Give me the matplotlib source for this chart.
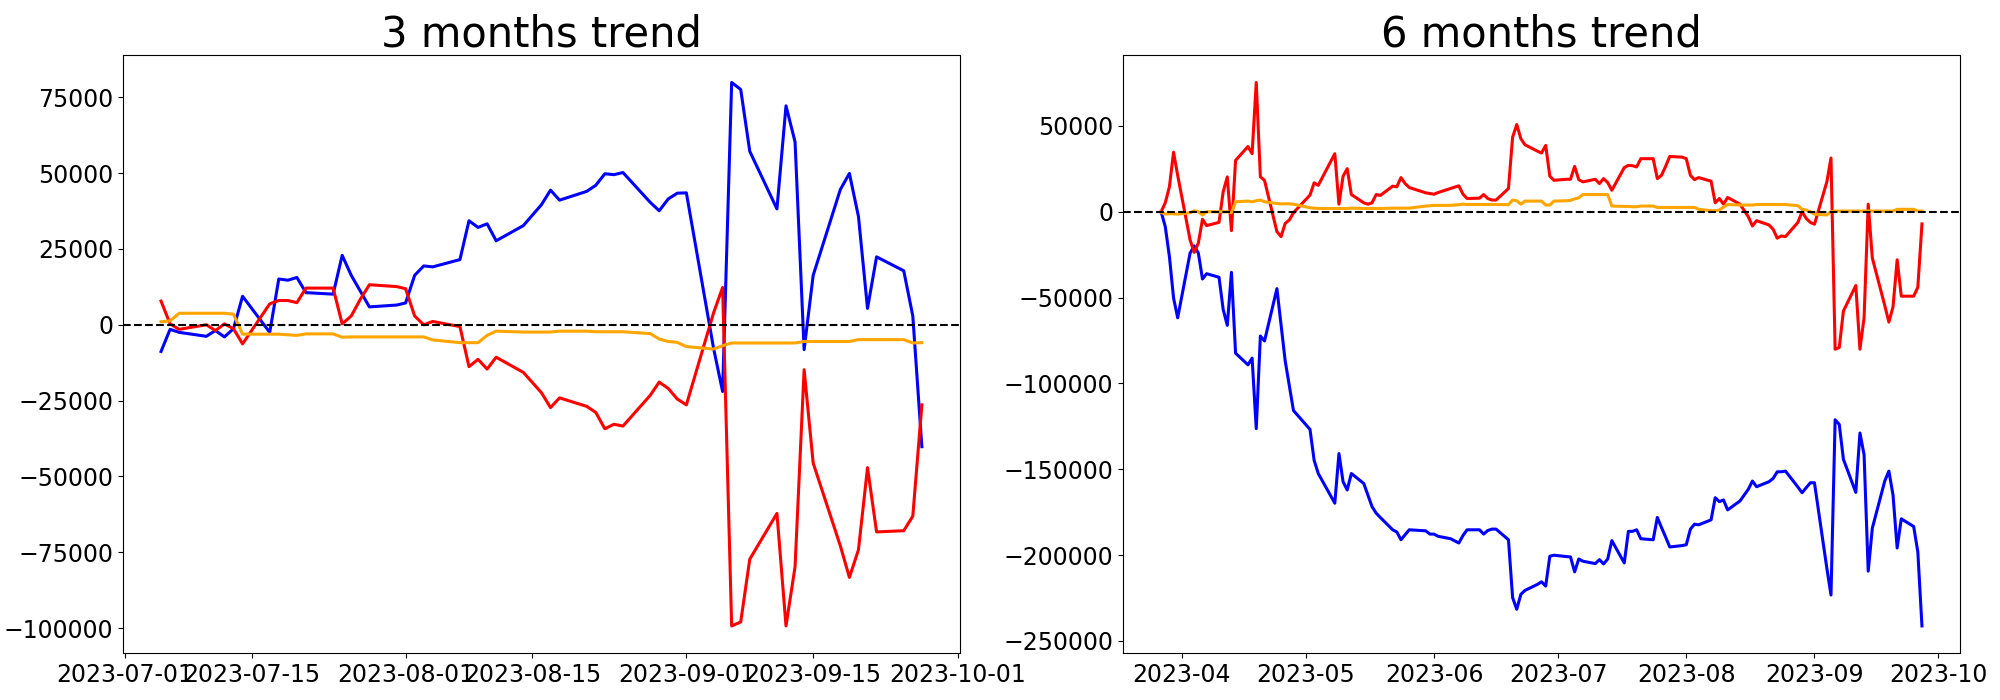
import matplotlib.pyplot as plt
import pandas as pd

# 3 months window (trading days)
dates_3m = [
    "2023-07-05", "2023-07-06", "2023-07-07", "2023-07-10", "2023-07-11", "2023-07-12", "2023-07-13",
    "2023-07-14", "2023-07-17", "2023-07-18", "2023-07-19", "2023-07-20", "2023-07-21", "2023-07-24",
    "2023-07-25", "2023-07-26", "2023-07-27", "2023-07-28", "2023-07-31",
    "2023-08-01", "2023-08-02", "2023-08-03", "2023-08-04", "2023-08-07", "2023-08-08", "2023-08-09",
    "2023-08-10", "2023-08-11", "2023-08-14", "2023-08-16", "2023-08-17", "2023-08-18", "2023-08-21",
    "2023-08-22", "2023-08-23", "2023-08-24", "2023-08-25", "2023-08-28", "2023-08-29", "2023-08-30",
    "2023-08-31",
    "2023-09-01", "2023-09-04", "2023-09-05", "2023-09-06", "2023-09-07", "2023-09-08", "2023-09-11",
    "2023-09-12", "2023-09-13", "2023-09-14", "2023-09-15", "2023-09-18", "2023-09-19", "2023-09-20",
    "2023-09-21", "2023-09-22", "2023-09-25", "2023-09-26", "2023-09-27",
]
blue_3m = [
    -8800, -1500, -2500, -3800, -1900, -4000, -1300, 9400, -2500, 15100,
    14700, 15600, 10600, 10100, 22900, 16300, 11100, 5900, 6500,
    7200, 16300, 19400, 19100, 21500, 34300, 32100, 33300, 27700, 32700,
    39600, 44400, 41100, 44000, 46000, 49800, 49500, 50200, 40400, 37600, 41500, 43400,
    43500, -7700, -22000, 79900, 77600, 57200, 38200, 72200, 60300, -8200,
    16300, 44600, 49900, 35700, 5400, 22400, 17800, 2900, -40200,
]
red_3m = [
    7800, 300, -1500, 0, -1900, 300, -1300, -6300, 6900, 8000,
    8000, 7300, 12100, 12100, 300, 2900, 8400, 13200, 12600,
    11900, 2900, 0, 1100, -600, -13800, -11400, -14600, -10700, -15700,
    -22400, -27300, -24100, -26900, -28900, -34300, -32800, -33400, -23300, -18900, -21000, -24500,
    -26400, 3900, 12300, -99300, -98000, -77300, -62200, -99300, -79800, -14800,
    -45600, -72900, -83300, -74200, -47100, -68300, -67900, -63100, -26400,
]
orange_3m = [
    1000, 1300, 3800, 3800, 3800, 3800, 3500, -3100, -3100, -3100,
    -3300, -3500, -3000, -3000, -4100, -4000, -4000, -4000, -4000,
    -4000, -4000, -4000, -5000, -5900, -5900, -5900, -3500, -2100, -2400,
    -2400, -2400, -2100, -2100, -2300, -2300, -2300, -2300, -2900, -4700, -5500, -5800,
    -7200, -8000, -6900, -6000, -6000, -6000, -6000, -6000, -6000, -5500,
    -5500, -5500, -5500, -4900, -4900, -4900, -4900, -6000, -5900,
]

# 6 months window (trading days)
dates_6m = [
    "2023-03-27", "2023-03-28", "2023-03-29", "2023-03-30", "2023-03-31",
    "2023-04-03", "2023-04-04", "2023-04-05", "2023-04-06", "2023-04-07", "2023-04-10", "2023-04-11",
    "2023-04-12", "2023-04-13", "2023-04-14", "2023-04-17", "2023-04-18", "2023-04-19", "2023-04-20",
    "2023-04-21", "2023-04-24", "2023-04-25", "2023-04-26", "2023-04-27", "2023-04-28",
    "2023-05-02", "2023-05-03", "2023-05-04", "2023-05-08", "2023-05-09", "2023-05-10", "2023-05-11",
    "2023-05-12", "2023-05-15", "2023-05-16", "2023-05-17", "2023-05-18", "2023-05-19", "2023-05-22",
    "2023-05-23", "2023-05-24", "2023-05-25", "2023-05-26", "2023-05-30", "2023-05-31",
    "2023-06-01", "2023-06-02", "2023-06-05", "2023-06-07", "2023-06-08", "2023-06-09", "2023-06-12",
    "2023-06-13", "2023-06-14", "2023-06-15", "2023-06-16", "2023-06-19", "2023-06-20", "2023-06-21",
    "2023-06-22", "2023-06-23", "2023-06-26", "2023-06-27", "2023-06-28", "2023-06-29", "2023-06-30",
    "2023-07-03", "2023-07-04", "2023-07-05", "2023-07-06", "2023-07-07", "2023-07-10", "2023-07-11",
    "2023-07-12", "2023-07-13", "2023-07-14", "2023-07-17", "2023-07-18", "2023-07-19", "2023-07-20",
    "2023-07-21", "2023-07-24", "2023-07-25", "2023-07-26", "2023-07-27", "2023-07-28", "2023-07-31",
] + dates_3m[19:]
blue_6m = [
    0, -8700, -26100, -50200, -61800,
    -24100, -19900, -24100, -39200, -36100, -38200, -56900, -66200, -35300, -82400,
    -89200, -85300, -126400, -72400, -75300, -44800, -65600, -86900, -101300, -115800,
    -126800, -144800, -152500, -169800, -140900, -157300, -162100, -152500, -158300, -165000,
    -171800, -175600, -178100, -185300, -186600, -191100, -188200, -185300, -185900, -187800,
    -187800, -189100, -190500, -193000, -188600, -185300, -185300, -187800, -185700, -184900,
    -184900, -191100, -224800, -231600, -222900, -220600, -217100, -215600, -218100, -200700, -200100,
    -200900, -201100, -209800, -202300, -203600, -205000, -202700, -205200, -202300, -191600,
    -204600, -186200, -186200, -185300, -190500, -191100, -178100, -183900, -189500, -195300, -194500,
    -194000, -184900, -182000, -182400, -179500, -166600, -168900, -167900, -173700, -168500,
    -161700, -156900, -160200, -157300, -155400, -151500, -151500, -151100, -160400, -163700,
    -160800, -157900,
    -157900, -207700, -223300, -121200, -123900, -144200, -163500, -128900, -141500, -209400,
    -184300, -156900, -151100, -165000, -195900, -178900, -183400, -198200, -241300,
]
red_6m = [
    0, 5200, 14500, 34700, 21200,
    -16400, -23700, -18300, -4400, -8100, -6200, 11600, 20300, -11000, 29900,
    38000, 33800, 75300, 20300, 18300, -11600, -14500, -6800, -4800, -600,
    9700, 16800, 15400, 33800, 4400, 20700, 25100, 10000, 5200, 4400,
    5200, 10000, 9500, 14900, 14500, 19900, 16400, 14100, 11000, 10600,
    10200, 11200, 13500, 15100, 10200, 7700, 7900, 10000, 7700, 6800,
    6800, 13500, 43400, 50800, 42500, 39000, 35300, 34200, 38600, 20700, 18300,
    18900, 18900, 26400, 18700, 17400, 18900, 16400, 19300, 17000, 12500,
    25700, 27000, 26800, 26100, 30900, 30900, 19300, 21200, 26400, 32200, 31800,
    30900, 21200, 18700, 19900, 17800, 5200, 7700, 4400, 8300, 4400,
    -2900, -8300, -5200, -7700, -10200, -15400, -14100, -14500, -6200, 0,
    -3900, -6200,
    -7300, 17400, 31300, -80100, -79100, -57900, -43000, -80100, -61800, 4400,
    -27000, -54600, -64300, -55400, -28000, -49200, -49200, -44000, -7100,
]
orange_6m = [
    -400, -1400, -1200, -1200, -1400,
    -600, 600, 0, -1900, 0, 0, 0, 0, -600, 5800,
    6200, 5800, 6400, 6800, 5800, 4800, 4600, 4600, 4600, 4400,
    2300, 2100, 1900, 1900, 1900, 1900, 1900, 2100, 1900, 1900,
    1900, 1900, 1900, 2100, 2100, 2100, 2100, 2100, 3300, 3500,
    3700, 3700, 3700, 4100, 4400, 4200, 4200, 4200, 4200, 4200,
    4200, 4100, 6800, 6400, 4400, 6200, 6200, 6200, 3900, 3900, 6200,
    6400, 6600, 7500, 8100, 10000, 10000, 10000, 10000, 10000, 3300,
    3100, 3100, 2900, 2900, 3300, 3300, 2500, 2500, 2500, 2500, 2500,
    2500, 2500, 2500, 1400, 600, 600, 1000, 2700, 4200, 3900,
    3900, 3900, 4200, 4200, 4200, 4200, 4200, 4200, 3500, 1500,
    1000, 0,
    -1400, -1900, 0, 400, 400, 400, 400, 400, 400, 400,
    400, 400, 400, 400, 1400, 1400, 1400, 400, 400,
]

panels = [
    ("3 months trend", dates_3m, blue_3m, red_3m, orange_3m),
    ("6 months trend", dates_6m, blue_6m, red_6m, orange_6m),
]

fig, axes = plt.subplots(1, 2, figsize=(20, 7), dpi=100)
fig.subplots_adjust(left=0.0615, right=0.98, bottom=0.067, top=0.921, wspace=0.195)

for ax, (title, dates, blue, red, orange) in zip(axes, panels):
    x = pd.to_datetime(dates)
    ax.plot(x, blue, color="blue", linewidth=2.2)
    ax.plot(x, red, color="red", linewidth=2.2)
    ax.plot(x, orange, color="orange", linewidth=2.2)
    ax.axhline(0, color="black", linestyle="--", linewidth=1.5)
    ax.set_title(title, fontsize=30)
    ax.tick_params(labelsize=17)

fig.savefig("out.png")
